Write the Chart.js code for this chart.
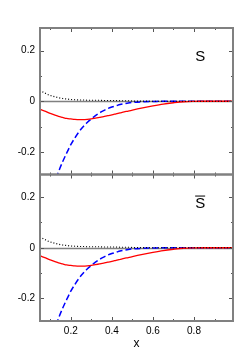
<!DOCTYPE html>
<html>
<head>
<meta charset="utf-8">
<script src="https://cdn.jsdelivr.net/npm/chart.js@4.4.0/dist/chart.umd.min.js"></script>
<style>
  html, body { margin: 0; padding: 0; background: #fff; }
  #wrap { width: 250px; height: 350px; }
</style>
</head>
<body>
<div id="wrap"><canvas id="chart" width="250" height="350"></canvas></div>
<script>
// x grid the curves were read on
const xs = [0.05, 0.06, 0.07, 0.08, 0.09, 0.10, 0.12, 0.14, 0.16, 0.18, 0.20, 0.22,
  0.24, 0.26, 0.28, 0.30, 0.32, 0.34, 0.36, 0.38, 0.40, 0.42, 0.44, 0.46, 0.48, 0.50,
  0.55, 0.60, 0.65, 0.70, 0.75, 0.80, 0.85, 0.90, 0.95, 0.99];

// s panel
const sRed = [-0.032, -0.035, -0.038, -0.041, -0.045, -0.048, -0.054, -0.060, -0.064, -0.068, -0.070, -0.072,
  -0.073, -0.073, -0.072, -0.070, -0.067, -0.064, -0.061, -0.057, -0.054, -0.050, -0.046, -0.042, -0.039, -0.035,
  -0.026, -0.018, -0.011, -0.006, -0.002, -0.0005, 0, 0, 0, 0];
const sBlue = [-0.62, -0.57, -0.52, -0.47, -0.43, -0.39, -0.33, -0.28, -0.24, -0.205, -0.172, -0.145,
  -0.121, -0.101, -0.084, -0.070, -0.057, -0.046, -0.037, -0.029, -0.023, -0.018, -0.013, -0.010, -0.007, -0.005,
  -0.002, -0.001, 0, 0, 0, 0, 0, 0, 0, 0];
const sBlack = [0.045, 0.039, 0.034, 0.030, 0.026, 0.023, 0.018, 0.014, 0.011, 0.009, 0.007, 0.006,
  0.005, 0.005, 0.004, 0.004, 0.004, 0.004, 0.003, 0.003, 0.003, 0.003, 0.002, 0.002, 0.002, 0.001,
  0.0005, 0, 0, 0, 0, 0, 0, 0, 0, 0];

// s-bar panel reads the same off the picture
const sbarRed = sRed.slice();
const sbarBlue = sBlue.slice();
const sbarBlack = sBlack.slice();

const panelLabels = ['S', 'S'];   // second one gets an overline (s-bar)
const xTickLabels = [0.2, 0.4, 0.6, 0.8];
const xMinorTicks = [0.1, 0.3, 0.5, 0.7, 0.9];
const yTickLabels = [-0.2, 0, 0.2];
const yMinorTicks = [-0.1, 0.1];

const pts = (ys) => xs.map((x, i) => ({ x: x, y: ys[i] }));

const frameGray = '#808080';

const line = (ys, axis, color, dash, width) => ({
  data: pts(ys),
  yAxisID: axis,
  borderColor: color,
  borderWidth: width,
  borderDash: dash,
  pointRadius: 0,
  cubicInterpolationMode: 'monotone',
  fill: false
});

// frames, inward ticks, zero lines and the s / s-bar letters
const panelDeco = {
  id: 'panelDeco',
  beforeDatasetsDraw(chart) {
    const ctx = chart.ctx;
    const xs_ = chart.scales.x;
    ['yTop', 'yBot'].forEach((id) => {
      const y = chart.scales[id];
      const p = Math.round(y.getPixelForValue(0)) + 0.5;
      ctx.save();
      ctx.strokeStyle = frameGray;
      ctx.lineWidth = 1.6;
      ctx.beginPath();
      ctx.moveTo(xs_.left, p);
      ctx.lineTo(xs_.right, p);
      ctx.stroke();
      ctx.restore();
    });
  },
  afterDatasetsDraw(chart) {
    const ctx = chart.ctx;
    const xs_ = chart.scales.x;
    ['yTop', 'yBot'].forEach((id, k) => {
      const y = chart.scales[id];
      ctx.save();
      ctx.strokeStyle = '#555';
      ctx.lineWidth = 1;
      const tick = (v, len, horiz) => {
        if (horiz) {
          const px = Math.round(xs_.getPixelForValue(v)) + 0.5;
          ctx.moveTo(px, y.top); ctx.lineTo(px, y.top + len);
          ctx.moveTo(px, y.bottom); ctx.lineTo(px, y.bottom - len);
        } else {
          const py = Math.round(y.getPixelForValue(v)) + 0.5;
          ctx.moveTo(xs_.left, py); ctx.lineTo(xs_.left + len, py);
          ctx.moveTo(xs_.right, py); ctx.lineTo(xs_.right - len, py);
        }
      };
      ctx.beginPath();
      xTickLabels.forEach((v) => tick(v, 4, true));
      xMinorTicks.forEach((v) => tick(v, 2, true));
      yTickLabels.forEach((v) => tick(v, 4, false));
      yMinorTicks.forEach((v) => tick(v, 2, false));
      ctx.stroke();

      ctx.strokeStyle = frameGray;
      ctx.lineWidth = 2;
      ctx.strokeRect(xs_.left, y.top, xs_.right - xs_.left, y.bottom - y.top);

      // panel letter
      const lx = xs_.getPixelForValue(0.83);
      const ly = y.getPixelForValue(0.175);
      const txt = panelLabels[k];
      ctx.fillStyle = '#000';
      ctx.font = '15px "Liberation Sans", Arial, sans-serif';
      ctx.textAlign = 'center';
      ctx.textBaseline = 'middle';
      ctx.fillText(txt, lx, ly);
      if (k === 1) {
        const w = ctx.measureText(txt).width;
        ctx.strokeStyle = '#000';
        ctx.lineWidth = 1;
        ctx.beginPath();
        ctx.moveTo(lx - w / 2, ly - 7.5);
        ctx.lineTo(lx + w / 2, ly - 7.5);
        ctx.stroke();
      }
      ctx.restore();
    });
  }
};

const tickFont = { family: '"Liberation Sans", Arial, sans-serif', size: 10 };

const yAxis = (weight) => ({
  type: 'linear',
  position: 'left',
  stack: 'panels',
  stackWeight: 1,
  weight: weight,
  min: -0.29,
  max: 0.29,
  grid: { display: false, drawTicks: false },
  border: { display: false },
  afterBuildTicks: (s) => { s.ticks = yTickLabels.map((v) => ({ value: v })); },
  afterFit: (s) => { s.width = 40; },
  ticks: {
    color: '#000',
    font: tickFont,
    padding: 5,
    callback: (v) => (v === 0 ? '0' : v.toFixed(1))
  }
});

new Chart(document.getElementById('chart'), {
  type: 'line',
  data: {
    datasets: [
      line(sBlack, 'yTop', '#000', [1, 2], 1.2),
      line(sRed, 'yTop', '#ff0000', [], 1.3),
      line(sBlue, 'yTop', '#0000ff', [6, 3], 1.5),
      line(sbarBlack, 'yBot', '#000', [1, 2], 1.2),
      line(sbarRed, 'yBot', '#ff0000', [], 1.3),
      line(sbarBlue, 'yBot', '#0000ff', [6, 3], 1.5)
    ]
  },
  options: {
    responsive: false,
    animation: false,
    layout: { padding: { top: 28, right: 17, left: 0, bottom: 0 } },
    plugins: { legend: { display: false }, tooltip: { enabled: false } },
    scales: {
      x: {
        type: 'linear',
        min: 0.05,
        max: 0.99,
        grid: { display: false, drawTicks: false },
        border: { display: false },
        afterBuildTicks: (s) => { s.ticks = xTickLabels.map((v) => ({ value: v })); },
        afterFit: (s) => { s.height = 29; },
        ticks: {
          color: '#000',
          font: tickFont,
          padding: 4,
          autoSkip: false,
          maxRotation: 0,
          callback: (v) => v.toFixed(1)
        },
        title: {
          display: true,
          text: 'x',
          color: '#000',
          font: { family: '"Liberation Sans", Arial, sans-serif', size: 12 },
          padding: { top: 0, bottom: -1 }
        }
      },
      yTop: yAxis(2),
      yBot: yAxis(1)
    }
  },
  plugins: [panelDeco]
});
</script>
</body>
</html>
